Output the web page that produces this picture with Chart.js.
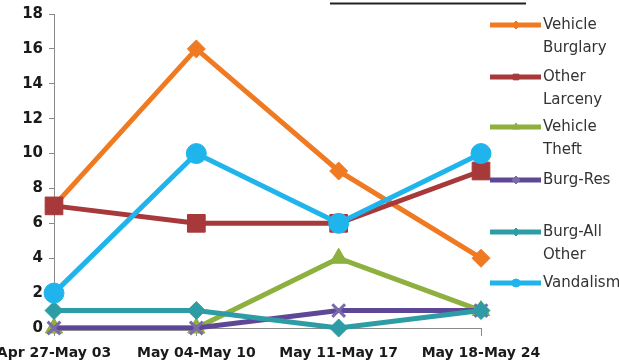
<!DOCTYPE html>
<html>
<head>
<meta charset="utf-8">
<script src="https://cdn.jsdelivr.net/npm/chart.js@4.4.1/dist/chart.umd.min.js"></script>
<style>
html,body{margin:0;padding:0;background:#fff;}
#wrap{width:619px;height:363px;position:relative;}
</style>
</head>
<body>
<div id="wrap"><canvas id="c"></canvas></div>
<script>
const categories = ['Apr 27-May 03', 'May 04-May 10', 'May 11-May 17', 'May 18-May 24'];
const seriesNames = ['Vehicle Burglary', 'Other Larceny', 'Vehicle Theft', 'Burg-Res', 'Burg-All Other', 'Vandalism'];
const vehicleBurglary = [7, 16, 9, 4];
const otherLarceny = [7, 6, 6, 9];
const vehicleTheft = [0, 0, 4, 1];
const burgRes = [0, 0, 1, 1];
const burgAllOther = [1, 1, 0, 1];
const vandalism = [2, 10, 6, 10];
const yTickMin = 0, yTickMax = 18, yTickStep = 2;

const seriesValues = [vehicleBurglary, otherLarceny, vehicleTheft, burgRes, burgAllOther, vandalism];
const colors = ['#F07A22', '#A8393B', '#8DB03E', '#5F4797', '#2E9CA4', '#1FB5EC'];
const markerColors = ['#F07A22', '#A8393B', '#8DB03E', '#7A6AAA', '#2E9CA4', '#1FB5EC'];
const styles = ['rectRot', 'rect', 'triangle', 'crossRot', 'rectRot', 'circle'];
const radii = [9, 12.5, 10, 9, 9, 10];
const legendWrap = [['Vehicle', 'Burglary'], ['Other', 'Larceny'], ['Vehicle', 'Theft'], ['Burg-Res'], ['Burg-All', 'Other'], ['Vandalism']];
const legendY = [25, 77, 127, 180, 232, 283];

const FONT = "'DejaVu Sans', sans-serif";

const datasets = seriesNames.map((name, i) => ({
  label: name,
  data: seriesValues[i],
  borderColor: colors[i],
  backgroundColor: markerColors[i],
  borderWidth: 5,
  pointStyle: styles[i],
  pointRadius: radii[i],
  pointHoverRadius: radii[i],
  pointBorderColor: markerColors[i],
  pointBackgroundColor: markerColors[i],
  pointBorderWidth: styles[i] === 'crossRot' ? 3 : 1,
  tension: 0,
  fill: false,
  clip: false,
  order: seriesNames.length - i
}));

const legendPlugin = {
  id: 'customLegend',
  afterDraw(chart) {
    const ctx = chart.ctx;
    ctx.save();
    // underline of the cut-off title
    ctx.strokeStyle = '#222';
    ctx.lineWidth = 2;
    ctx.beginPath();
    ctx.moveTo(330, 3.5);
    ctx.lineTo(526, 3.5);
    ctx.stroke();

    seriesNames.forEach((name, i) => {
      const y = legendY[i];
      ctx.strokeStyle = colors[i];
      ctx.lineWidth = 5;
      ctx.beginPath();
      ctx.moveTo(490, y);
      ctx.lineTo(541, y);
      ctx.stroke();
      ctx.fillStyle = markerColors[i];
      ctx.strokeStyle = markerColors[i];
      ctx.lineWidth = 1;
      Chart.helpers.drawPoint(ctx, {pointStyle: styles[i] === 'crossRot' ? 'rectRot' : styles[i], rotation: 0, radius: 4, borderWidth: 1}, 516, y);
      ctx.fillStyle = '#333';
      ctx.font = "15px " + FONT;
      ctx.textBaseline = 'middle';
      ctx.textAlign = 'left';
      legendWrap[i].forEach((t, k) => ctx.fillText(t, 543, y + k * 23));
    });
    ctx.restore();
  }
};

new Chart(document.getElementById('c'), {
  type: 'line',
  data: { labels: categories, datasets },
  options: {
    responsive: true,
    maintainAspectRatio: false,
    animation: false,
    layout: { padding: { top: 14, right: 138, bottom: 0, left: 0 } },
    plugins: { legend: { display: false }, tooltip: { enabled: false }, title: { display: false } },
    scales: {
      x: {
        offset: false,
        grid: { display: true, drawOnChartArea: false, drawTicks: true, tickLength: 8, color: '#8a8a8a' },
        border: { display: true, color: '#8a8a8a', width: 1 },
        ticks: { color: '#1a1a1a', font: { family: FONT, size: 14, weight: 'bold' }, maxRotation: 0, autoSkip: false, padding: 9 },
        afterFit(s) { s.height = 35; s.paddingLeft = 0; s.paddingRight = 0; }
      },
      y: {
        min: yTickMin, max: yTickMax,
        grid: { display: true, drawOnChartArea: false, drawTicks: true, tickLength: 5, color: '#8a8a8a' },
        border: { display: true, color: '#8a8a8a', width: 1 },
        ticks: { stepSize: yTickStep, color: '#1a1a1a', font: { family: FONT, size: 15, weight: 'bold' }, padding: 6 },
        afterFit(s) { s.width = 54; s.paddingTop = 0; s.paddingBottom = 0; }
      }
    }
  },
  plugins: [legendPlugin]
});
</script>
</body>
</html>
